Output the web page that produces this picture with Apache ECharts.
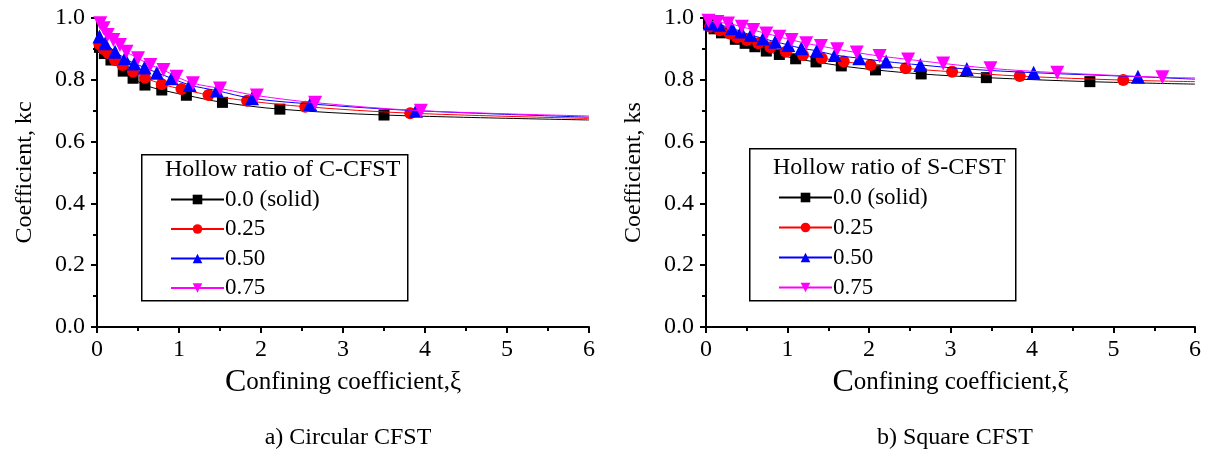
<!DOCTYPE html>
<html>
<head>
<meta charset="utf-8">
<script src="https://cdn.jsdelivr.net/npm/echarts@6/dist/echarts.min.js"></script>
<style>
  html, body { margin: 0; padding: 0; background: #fff; }
  #chart { width: 1208px; height: 458px; }
</style>
</head>
<body>
<div id="chart"></div>
<script>
// legend names, one per hollow ratio
const ratioNames = ['0.0 (solid)', '0.25', '0.50', '0.75']
const xiTicks = [0, 1, 2, 3, 4, 5, 6]
const coefTicks = ['0.0', '0.2', '0.4', '0.6', '0.8', '1.0']

// a) Circular CFST — measured points [xi, kc]
const circSolid = [[0.03,0.905],[0.09,0.885],[0.17,0.864],[0.32,0.828],[0.44,0.805],[0.585,0.783],[0.79,0.767],[1.09,0.75],[1.53,0.727],[2.23,0.705],[3.5,0.686]]
const circ25 = [[0.03,0.915],[0.08,0.9],[0.14,0.886],[0.22,0.864],[0.31,0.848],[0.44,0.826],[0.585,0.807],[0.79,0.786],[1.03,0.77],[1.36,0.751],[1.83,0.732],[2.54,0.713],[3.82,0.692]]
const circ50 = [[0.03,0.94],[0.1,0.918],[0.22,0.891],[0.34,0.87],[0.455,0.853],[0.58,0.84],[0.73,0.823],[0.91,0.805],[1.13,0.783],[1.46,0.765],[1.89,0.74],[2.6,0.722],[3.89,0.7]]
const circ75 = [[0.04,0.983],[0.08,0.967],[0.13,0.945],[0.2,0.929],[0.28,0.913],[0.36,0.891],[0.5,0.87],[0.65,0.848],[0.81,0.832],[0.97,0.81],[1.17,0.789],[1.5,0.772],[1.95,0.749],[2.66,0.726],[3.95,0.7]]
// fitted curve ends [xi=0, xi=6]
const circStart = [0.925, 0.93, 0.955, 1.0]
const circEnd = [0.67, 0.675, 0.679, 0.683]

// b) Square CFST — measured points [xi, ks]
const sqSolid = [[0.03,0.981],[0.1,0.965],[0.19,0.952],[0.36,0.931],[0.48,0.918],[0.6,0.907],[0.74,0.893],[0.9,0.882],[1.1,0.868],[1.35,0.858],[1.66,0.845],[2.08,0.832],[2.64,0.819],[3.44,0.807],[4.71,0.794]]
const sq25 = [[0.05,0.972],[0.17,0.96],[0.29,0.95],[0.38,0.938],[0.5,0.929],[0.64,0.918],[0.79,0.905],[0.98,0.891],[1.19,0.88],[1.42,0.87],[1.69,0.859],[2.02,0.848],[2.45,0.837],[3.02,0.826],[3.85,0.812],[5.12,0.799]]
const sq50 = [[0.05,0.982],[0.16,0.978],[0.32,0.967],[0.43,0.956],[0.55,0.945],[0.7,0.934],[0.85,0.923],[1.01,0.913],[1.17,0.902],[1.36,0.894],[1.58,0.88],[1.88,0.87],[2.21,0.859],[2.63,0.848],[3.2,0.835],[4.02,0.823],[5.3,0.81]]
const sq75 = [[0.03,0.991],[0.14,0.987],[0.27,0.982],[0.44,0.972],[0.58,0.961],[0.74,0.95],[0.9,0.939],[1.05,0.929],[1.23,0.918],[1.41,0.909],[1.61,0.899],[1.85,0.888],[2.13,0.877],[2.48,0.866],[2.91,0.853],[3.49,0.837],[4.31,0.823],[5.6,0.808]]
const sqStart = [0.985, 0.99, 0.995, 1.0]
const sqEnd = [0.786, 0.794, 0.802, 0.806]

const colors = ['#000000', '#ff0000', '#0000ff', '#ff00ff']
const symbols = ['rect', 'circle', 'triangle', 'triangle']
const symbolRot = [0, 0, 0, 180]
const symbolSizes = [11, 12, 14, 14]
const serif = 'Liberation Serif'

function makeSeries (marks, starts, ends, axisIdx) {
  return marks.map((pts, i) => ({
    name: ratioNames[i],
    type: 'line',
    xAxisIndex: axisIdx,
    yAxisIndex: axisIdx,
    smooth: 0.35,
    symbol: symbols[i],
    symbolRotate: symbolRot[i],
    symbolSize: symbolSizes[i],
    color: colors[i],
    lineStyle: { width: 1, color: colors[i] },
    itemStyle: { color: colors[i] },
    z: 2 + i,
    data: [{ value: [0, starts[i]], symbol: 'none' }]
      .concat(pts.map(p => ({ value: p })))
      .concat([{ value: [6, ends[i]], symbol: 'none' }])
  }))
}

function xAxisOf (idx) {
  return {
    gridIndex: idx, type: 'value', min: 0, max: 6, interval: 1,
    name: '{big|C}onfining coefficient,ξ', nameLocation: 'middle', nameGap: 38,
    nameTextStyle: { fontFamily: serif, fontSize: 25, color: '#000',
      rich: { big: { fontFamily: serif, fontSize: 32, color: '#000' } } },
    axisLine: { show: true, onZero: false, lineStyle: { color: '#000', width: 2 } },
    axisTick: { show: true, length: 6, lineStyle: { color: '#000', width: 2 } },
    minorTick: { show: true, splitNumber: 2, length: 4, lineStyle: { color: '#000', width: 2 } },
    axisLabel: { fontFamily: serif, fontSize: 24, color: '#000', margin: 11,
      formatter: v => xiTicks.includes(v) ? String(v) : '' },
    splitLine: { show: false }
  }
}

function yAxisOf (idx, label) {
  return {
    gridIndex: idx, type: 'value', min: 0, max: 1, interval: 0.2,
    name: label, nameLocation: 'middle', nameGap: 60,
    nameTextStyle: { fontFamily: serif, fontSize: 24, color: '#000' },
    axisLine: { show: true, onZero: false, lineStyle: { color: '#000', width: 2 } },
    axisTick: { show: true, length: 6, lineStyle: { color: '#000', width: 2 } },
    minorTick: { show: true, splitNumber: 2, length: 4, lineStyle: { color: '#000', width: 2 } },
    axisLabel: { fontFamily: serif, fontSize: 24, color: '#000', margin: 12,
      formatter: v => coefTicks[Math.round(v * 5)] },
    splitLine: { show: false }
  }
}

function legendOf (left, top, gap) {
  return {
    data: ratioNames, orient: 'vertical', left: left, top: top, z: 20,
    itemWidth: 53, itemHeight: 12, itemGap: gap, padding: 0,
    selectedMode: false,
    textStyle: { fontFamily: serif, fontSize: 23, lineHeight: 23, color: '#000', padding: [0, 0, 0, -4] }
  }
}

function legendBox (x, y, w, h, title, titleDy) {
  return [
    { type: 'rect', left: x, top: y, shape: { width: w, height: h },
      style: { fill: '#fff', stroke: '#000', lineWidth: 1.5 }, z: 10 },
    { type: 'text', left: x + 24, top: y + titleDy,
      style: { text: title, font: '24px "Liberation Serif"', fill: '#000' }, z: 11 }
  ]
}

const chart = echarts.init(document.getElementById('chart'))
chart.setOption({
  animation: false,
  backgroundColor: '#fff',
  title: [
    { text: 'a) Circular CFST', left: 343, top: 421, textAlign: 'center',
      textStyle: { fontFamily: serif, fontSize: 24, fontWeight: 'normal', color: '#000' } },
    { text: 'b) Square CFST', left: 950, top: 421, textAlign: 'center',
      textStyle: { fontFamily: serif, fontSize: 24, fontWeight: 'normal', color: '#000' } }
  ],
  grid: [
    { left: 97, top: 18, width: 492, height: 309 },
    { left: 706, top: 18, width: 489, height: 309 }
  ],
  xAxis: [xAxisOf(0), xAxisOf(1)],
  yAxis: [yAxisOf(0, 'Coefficient, kc'), yAxisOf(1, 'Coefficient, ks')],
  legend: [legendOf(170, 188, 6.5), legendOf(778, 186, 7)],
  graphic: legendBox(141, 154, 266, 146, 'Hollow ratio of C-CFST', 4)
    .concat(legendBox(749, 148, 266, 152, 'Hollow ratio of S-CFST', 8)),
  series: makeSeries([circSolid, circ25, circ50, circ75], circStart, circEnd, 0)
    .concat(makeSeries([sqSolid, sq25, sq50, sq75], sqStart, sqEnd, 1))
})
</script>
</body>
</html>
